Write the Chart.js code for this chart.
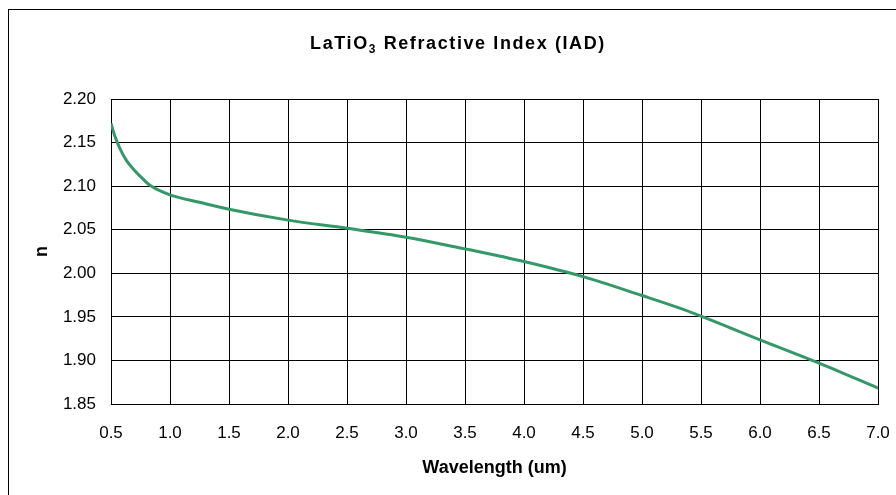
<!DOCTYPE html>
<html>
<head>
<meta charset="utf-8">
<script src="https://cdn.jsdelivr.net/npm/chart.js@4/dist/chart.umd.min.js"></script>
<style>
  html, body { margin: 0; padding: 0; background: #fff; }
  canvas { display: block; }
</style>
</head>
<body>
<canvas id="chart" width="896" height="495"></canvas>
<script>
// values
const wavelengths = [0.5, 0.534, 0.58, 0.633, 0.7, 0.75, 0.83, 1.0, 1.25, 1.5, 2.0, 2.5, 3.0, 3.5, 3.63, 3.8, 4.0, 4.5, 5.0, 5.32, 5.5, 6.0, 6.5, 7.0];
const nValues =    [2.172, 2.157, 2.142, 2.129, 2.118, 2.111, 2.101, 2.090, 2.0815, 2.0735, 2.061, 2.0517, 2.0414, 2.028, 2.0245, 2.0195, 2.0135, 1.9962, 1.9745, 1.960, 1.9508, 1.9236, 1.8969, 1.8682];

const xMin = 0.5, xMax = 7.0, xStep = 0.5;
const yMin = 1.85, yMax = 2.20, yStep = 0.05;

const titleMain = 'LaTiO';
const titleSub = '3';
const titleRest = ' Refractive Index (IAD)';

const FONT = 'Arial, "Liberation Sans", sans-serif';

// white page, the clipped outer frame and the title with its subscript
const framePlugin = {
  id: 'frame',
  beforeDraw(chart) {
    const ctx = chart.ctx;
    ctx.save();
    ctx.fillStyle = '#fff';
    ctx.fillRect(0, 0, chart.width, chart.height);
    ctx.strokeStyle = '#000';
    ctx.lineWidth = 1;
    ctx.strokeRect(8.5, 9.5, 1200, 1200);
    ctx.restore();
  },
  afterDraw(chart) {
    const ctx = chart.ctx;
    ctx.save();
    ctx.fillStyle = '#000';
    ctx.textBaseline = 'alphabetic';
    ctx.letterSpacing = '1.6px';
    ctx.font = 'bold 18px ' + FONT;
    const w1 = ctx.measureText(titleMain).width;
    const w3 = ctx.measureText(titleRest).width;
    ctx.font = 'bold 12px ' + FONT;
    const w2 = ctx.measureText(titleSub).width;
    let x = 458 - (w1 + w2 + w3) / 2;
    const base = 49;
    ctx.font = 'bold 18px ' + FONT;
    ctx.fillText(titleMain, x, base);
    x += w1;
    ctx.font = 'bold 12px ' + FONT;
    ctx.fillText(titleSub, x, base + 4);
    x += w2;
    ctx.font = 'bold 18px ' + FONT;
    ctx.fillText(titleRest, x, base);
    ctx.restore();
  }
};

new Chart(document.getElementById('chart'), {
  type: 'line',
  data: {
    datasets: [{
      data: wavelengths.map((w, i) => ({ x: w, y: nValues[i] })),
      borderColor: '#339966',
      borderWidth: 3,
      pointRadius: 0,
      cubicInterpolationMode: 'monotone',
      fill: false
    }]
  },
  options: {
    responsive: false,
    animation: false,
    layout: { padding: { left: 0, right: 18, top: 99, bottom: 0 } },
    scales: {
      x: {
        type: 'linear',
        min: xMin,
        max: xMax,
        afterFit: (scale) => {
          scale.height = 91;
          scale.paddingLeft = 0;
          scale.paddingRight = 0;
        },
        ticks: {
          stepSize: xStep,
          padding: 19,
          color: '#000',
          font: { family: FONT, size: 17 },
          maxRotation: 0,
          autoSkip: false,
          callback: (v) => Number(v).toFixed(1)
        },
        grid: { color: '#000', lineWidth: 1, drawTicks: false },
        border: { color: '#000', width: 1 },
        title: {
          display: true,
          text: 'Wavelength (um)',
          color: '#000',
          font: { family: FONT, size: 18, weight: 'bold' },
          padding: { top: 0, bottom: 16 }
        }
      },
      y: {
        min: yMin,
        max: yMax,
        afterFit: (scale) => {
          scale.width = 111;
          scale.paddingTop = 0;
          scale.paddingBottom = 0;
        },
        ticks: {
          stepSize: yStep,
          padding: 15,
          color: '#000',
          font: { family: FONT, size: 17 },
          callback: (v) => Number(v).toFixed(2)
        },
        grid: { color: '#000', lineWidth: 1, drawTicks: false },
        border: { color: '#000', width: 1 },
        title: {
          display: true,
          text: 'n',
          color: '#000',
          font: { family: FONT, size: 18, weight: 'bold' },
          padding: { top: 31, bottom: 0 }
        }
      }
    },
    plugins: {
      legend: { display: false },
      tooltip: { enabled: false },
      title: { display: false }
    }
  },
  plugins: [framePlugin]
});
</script>
</body>
</html>
